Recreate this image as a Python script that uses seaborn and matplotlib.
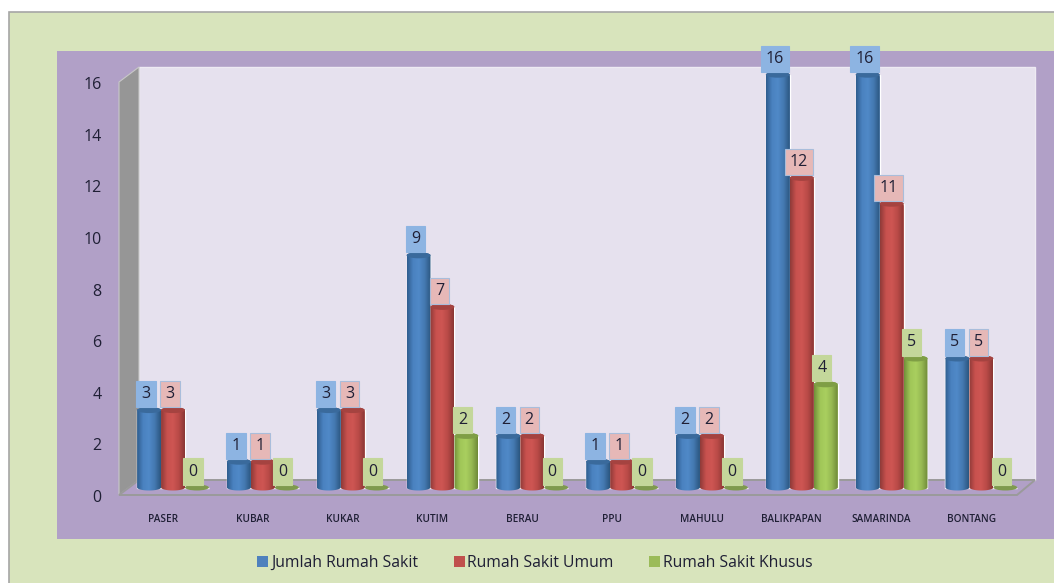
import numpy as np
import pandas as pd
import matplotlib
matplotlib.use("Agg")
import matplotlib.pyplot as plt
from matplotlib.colors import LinearSegmentedColormap
from matplotlib.patches import Polygon, Rectangle, Ellipse, PathPatch
from matplotlib.path import Path
from matplotlib.transforms import ScaledTranslation
import seaborn as sns

categories = ["PASER", "KUBAR", "KUKAR", "KUTIM", "BERAU", "PPU", "MAHULU",
              "BALIKPAPAN", "SAMARINDA", "BONTANG"]
jumlah = [3, 1, 3, 9, 2, 1, 2, 16, 16, 5]
umum = [3, 1, 3, 7, 2, 1, 2, 12, 11, 5]
khusus = [0, 0, 0, 2, 0, 0, 0, 4, 5, 0]
series_names = ["Jumlah Rumah Sakit", "Rumah Sakit Umum", "Rumah Sakit Khusus"]
palette = ["#4F81BD", "#C0504D", "#9BBB59"]
y_ticks = [0, 2, 4, 6, 8, 10, 12, 14, 16]

W, H = 1054, 583
sns.set_theme(style="white")
plt.rcParams["font.family"] = ["Open Sans", "DejaVu Sans"]

df = pd.DataFrame({
    "kab": categories * 3,
    "val": jumlah + umum + khusus,
    "ser": sum([[s] * len(categories) for s in series_names], []),
})

fig = plt.figure(figsize=(W / 100, H / 100), dpi=100, facecolor="white")

# background decoration in pixel coordinates
bg = fig.add_axes([0, 0, 1, 1], zorder=-1)
bg.set_xlim(0, W); bg.set_ylim(H, 0); bg.axis("off")
bg.add_patch(Rectangle((9, 12), W, H, fc="#D8E4BC", ec="#A6A6A6", lw=1.2))
bg.add_patch(Rectangle((57, 51), W, 488, fc="#B1A0C7", ec="none"))
bg.add_patch(Rectangle((139, 67), 896, 413, fc="#E6E1EE", ec="#EEEAF3", lw=1))
bg.add_patch(Polygon([(119, 82), (139, 67), (139, 480), (119, 495)], fc="#969696", ec="#C8C8C8", lw=0.8))
bg.add_patch(Polygon([(119, 495), (139, 480), (1035, 480), (1017, 495)], fc="#B1A0C7", ec="#9A9A9A", lw=1.4))

# plot axes: x=-0.5..9.5 -> 128..1026 px; y=0 at 487.5, 25.8 px per unit
px_unit = 25.8
y_lo, y_hi = -0.5, 17
left, right = 128.1, 1026.3
bottom_px = 487.5 - y_lo * px_unit
top_px = 487.5 - y_hi * px_unit
ax = fig.add_axes([left / W, 1 - bottom_px / H, (right - left) / W, (bottom_px - top_px) / H])
ax.patch.set_alpha(0)

sns.barplot(data=df, x="kab", y="val", hue="ser", hue_order=series_names,
            palette=palette, saturation=1, width=0.8, gap=0, dodge=True, ax=ax, legend=True)
handles, labels = ax.get_legend_handles_labels()
for h in handles:
    h.set_edgecolor("none")

ax.set_xlim(-0.5, 9.5)
ax.set_ylim(y_lo, y_hi)
ax.set_xlabel(""); ax.set_ylabel("")
sns.despine(ax=ax, left=True, bottom=True)
ax.set_yticks(y_ticks)
ax.tick_params(axis="y", length=0, pad=19.2, labelsize=11.5, labelcolor="#1F1F35")
ax.tick_params(axis="x", length=0, pad=9.5, labelsize=7.2, labelcolor="#1F1F35")
shift_x = ScaledTranslation(-10 / 100, 0, fig.dpi_scale_trans)
for lab in ax.get_xticklabels():
    lab.set_fontweight("semibold")
    lab.set_transform(lab.get_transform() + shift_x)
shift = ScaledTranslation(0, -8.5 / 100, fig.dpi_scale_trans)
for lab in ax.get_yticklabels():
    lab.set_transform(lab.get_transform() + shift)

cmaps = [
    LinearSegmentedColormap.from_list("b", ["#2F5D8E", "#4A82C0", "#5089C8", "#4478B0", "#2B5680"]),
    LinearSegmentedColormap.from_list("r", ["#8F3A38", "#C8514E", "#CE5653", "#B84A47", "#8A3634"]),
    LinearSegmentedColormap.from_list("g", ["#71903A", "#A0C658", "#A9CF5F", "#96B852", "#6F8A38"]),
]
cap_cols = ["#3A6A9C", "#A54340", "#7F9E45"]
zero_col = "#7F9A4E"
box_cols = ["#8DB4E2", "#E6B8B7", "#C4D79B"]
box_edges = ["#8DB4E2", "#A9BDDB", "#C4D79B"]
label_dx = [-3, -3, -4]
eh = 6 / px_unit
grad = np.linspace(0, 1, 64).reshape(1, -1)
arc_bot = np.linspace(np.pi, 2 * np.pi, 24)
arc_top = np.linspace(0, np.pi, 24)

for s_i, container in enumerate(ax.containers):
    for bar in container:
        x0, w, v = bar.get_x(), bar.get_width(), bar.get_height()
        cx = x0 + w / 2
        if v > 0:
            bot = np.c_[cx + w / 2 * np.cos(arc_bot), eh / 2 * np.sin(arc_bot)]
            top = np.c_[cx + w / 2 * np.cos(arc_top), v + eh / 2 * np.sin(arc_top)]
            verts = np.vstack([bot, top, bot[:1]])
            codes = [Path.MOVETO] + [Path.LINETO] * (len(verts) - 2) + [Path.CLOSEPOLY]
            body = PathPatch(Path(verts, codes), fc="none", ec="none", zorder=3)
            ax.add_patch(body)
            im = ax.imshow(grad, extent=(x0, x0 + w, -eh, v + eh), aspect="auto",
                           cmap=cmaps[s_i], zorder=3, interpolation="bilinear")
            im.set_clip_path(body)
            ax.add_patch(Ellipse((cx, v), w, eh, fc=cap_cols[s_i], ec="none", zorder=3.1))
        else:
            ax.add_patch(Ellipse((cx, 0), w, eh, fc=zero_col, ec="none", zorder=3.1))
        ax.annotate(f"{int(v)}", xy=(cx, v), xytext=(label_dx[s_i], 16), textcoords="offset pixels",
                    ha="center", va="center", fontsize=11.5, color="#1F1F35", zorder=5,
                    bbox=dict(boxstyle="square,pad=0.32", fc=box_cols[s_i], ec=box_edges[s_i], lw=0.8))

ax.set_xlim(-0.5, 9.5)
ax.set_ylim(y_lo, y_hi)

ax.legend(handles, labels, ncols=3, frameon=False, loc="center",
          bbox_to_anchor=(535 / W, 1 - 563 / H), bbox_transform=fig.transFigure,
          fontsize=11.3, labelcolor="#1F1F35", handlelength=0.7, handleheight=0.7,
          handletextpad=0.18, columnspacing=2.25, borderpad=0)

fig.savefig("out.png", dpi=100, facecolor=fig.get_facecolor())
